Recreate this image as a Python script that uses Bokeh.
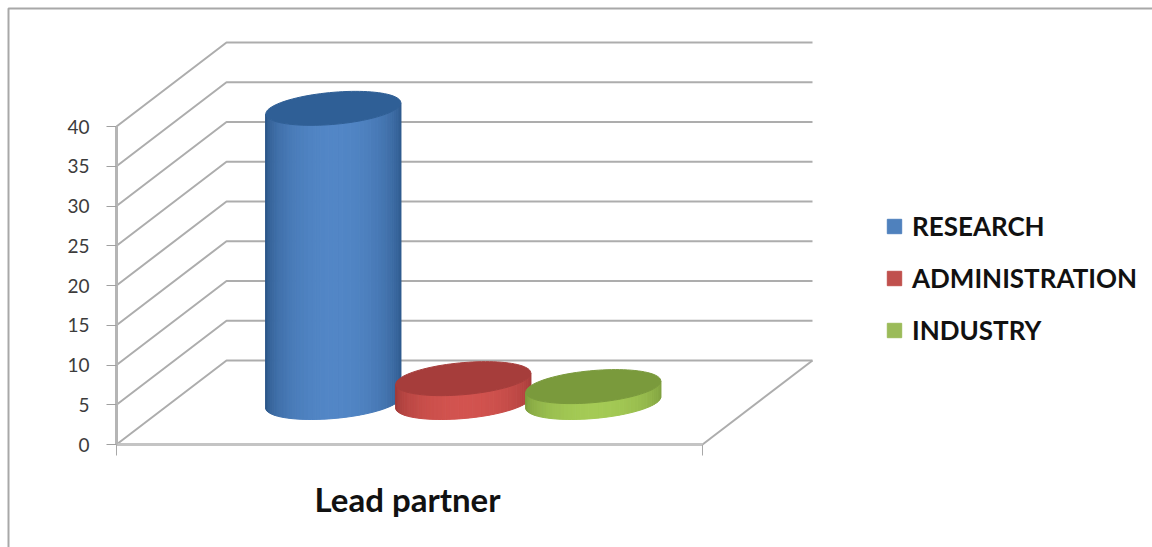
from bokeh.plotting import figure
from bokeh.models import ColumnDataSource, FixedTicker, Legend, LegendItem, Range1d, Label, BoxAnnotation, LinearAxis
from bokeh.embed import file_html
from bokeh.resources import INLINE
import math

# ---- data ----
categories = ["RESEARCH", "ADMINISTRATION", "INDUSTRY"]
values = [37, 3, 2]
tick_values = [0, 5, 10, 15, 20, 25, 30, 35, 40]
x_label = "Lead partner"

legend_colors = ["#4f81bd", "#c0504d", "#9bbb59"]
top_colors = ["#2f5f96", "#a63d3b", "#7a9a3c"]
edge_colors = ["#2b5688", "#a03a38", "#7c9c3d"]
mid_colors = ["#5286c6", "#d2534f", "#a4ca55"]

# ---- scale set-up (pixels of the picture) ----
FIG_W, FIG_H = 1152, 547
LEFT, BOTTOM_PX = 116, 444
X_UNIT = 586.0          # px for the floor width (0..1)
Y_UNIT = 7.95           # px per value unit
DEPTH_X = 110.0 / X_UNIT
DEPTH_Y = 84.0 / Y_UNIT
GROUP_STEP = 130.0 / X_UNIT
GROUP_CENTER = 0.5 - 1.2 / X_UNIT
RX = 63.7 / X_UNIT
RD = 0.2024
MID_DEPTH = 0.5


def proj(x, depth, v):
    return x + depth * DEPTH_X, v + depth * DEPTH_Y


def mix(c1, c2, f):
    a = [int(c1[i:i + 2], 16) for i in (1, 3, 5)]
    b = [int(c2[i:i + 2], 16) for i in (1, 3, 5)]
    return "#%02x%02x%02x" % tuple(round(p + (q - p) * f) for p, q in zip(a, b))


p = figure(
    width=FIG_W, height=FIG_H, output_backend="svg", toolbar_location=None,
    x_range=Range1d(-LEFT / X_UNIT, (FIG_W - LEFT) / X_UNIT),
    y_range=Range1d(-(FIG_H - BOTTOM_PX) / Y_UNIT, BOTTOM_PX / Y_UNIT),
    x_axis_location=None, y_axis_location=None,
    min_border=0, min_border_left=0, min_border_right=0, min_border_top=0,
    min_border_bottom=0,
    outline_line_color=None, background_fill_color="white",
)
p.grid.visible = False

# picture's outer frame
p.add_layout(BoxAnnotation(left=8, top=8, right=FIG_W + 20, bottom=FIG_H + 20,
                           left_units="canvas", right_units="canvas",
                           top_units="canvas", bottom_units="canvas",
                           fill_alpha=0, line_color="#a8a8a8", line_alpha=1,
                           line_width=2, editable=False))

# ---- 3-D walls and floor ----
GRID = "#adadad"
for t in tick_values:
    x0, y0 = proj(0, 0, t)
    x1, y1 = proj(0, 1, t)
    x2, y2 = proj(1, 1, t)
    p.line([x0, x1, x2], [y0, y1, y2], line_color=GRID, line_width=2)
xa, ya = proj(1, 0, 0)
xb, yb = proj(1, 1, 0)
p.line([xa, xb], [ya, yb], line_color=GRID, line_width=2)

# ---- cylinders ----
N = 48
for i, (name, val) in enumerate(zip(categories, values)):
    cx = GROUP_CENTER + (i - 1) * GROUP_STEP
    t0 = math.atan2(RD * 110.0, RX * X_UNIT)

    def rim(a, v):
        return proj(cx + RX * math.cos(a), MID_DEPTH + RD * math.sin(a), v)

    xs, ys, colors = [], [], []
    for k in range(N):
        a0 = t0 - math.pi * k / N
        a1 = t0 - math.pi * (k + 1) / N
        b0 = rim(a0, 0)
        b1 = rim(a1, 0)
        c0 = rim(a1, val)
        c1 = rim(a0, val)
        xs.append([b0[0], b1[0], c0[0], c1[0]])
        ys.append([b0[1], b1[1], c0[1], c1[1]])
        f = math.sin(math.pi * (k + 0.5) / N) ** 1.1
        colors.append(mix(edge_colors[i], mid_colors[i], f))
    p.patches(xs, ys, fill_color=colors, line_color=colors, line_width=1)

    top = [rim(2 * math.pi * k / 96, val) for k in range(96)]
    p.patch([q[0] for q in top], [q[1] for q in top],
            fill_color=top_colors[i], line_color=top_colors[i], line_width=1)

# ---- axes, placed at the wall and floor corner ----
ya_ = LinearAxis(fixed_location=0, bounds=(0, 40), ticker=FixedTicker(ticks=tick_values))
ya_.axis_line_color = "#b5b5b5"
ya_.axis_line_width = 3
ya_.major_tick_line_color = "#a0a0a0"
ya_.major_tick_line_width = 1
ya_.major_tick_in = 0
ya_.major_tick_out = 10
ya_.minor_tick_line_color = None
ya_.major_label_text_font = "Lato"
ya_.major_label_text_font_size = "19px"
ya_.major_label_text_color = "#3c3c3c"
ya_.major_label_standoff = 17
p.add_layout(ya_, "left")

xa_ = LinearAxis(fixed_location=0, bounds=(0, 1), ticker=FixedTicker(ticks=[0, 1]))
xa_.major_label_overrides = {0: "", 1: ""}
xa_.major_label_text_font_size = "1px"
xa_.axis_line_color = "#c4c4c4"
xa_.axis_line_width = 3
xa_.major_tick_line_color = "#a8a8a8"
xa_.major_tick_line_width = 1
xa_.major_tick_in = 0
xa_.major_tick_out = 11
xa_.minor_tick_line_color = None
p.add_layout(xa_, "below")

p.add_layout(Label(x=0.5 - 2 / X_UNIT, y=-(498 - BOTTOM_PX) / Y_UNIT, text=x_label,
                   text_align="center", text_baseline="middle",
                   text_font="Lato", text_font_style="bold",
                   text_font_size="33px", text_color="#111111"))

# ---- legend ----
items = []
nan = float("nan")
for name, col in zip(categories, legend_colors):
    src = ColumnDataSource(dict(left=[nan], right=[nan], top=[nan], bottom=[nan]))
    r = p.quad(left="left", right="right", top="top", bottom="bottom",
               source=src, fill_color=col, line_color=col)
    items.append(LegendItem(label=name, renderers=[r]))
legend = Legend(
    items=items, location=(769 + LEFT, 98 + FIG_H - BOTTOM_PX), orientation="vertical",
    background_fill_alpha=0, border_line_color=None, margin=0, padding=0,
    glyph_width=18, glyph_height=18, label_standoff=9, spacing=20,
    label_height=32, label_text_font="Lato", label_text_font_style="bold",
    label_text_font_size="26px", label_text_color="#111111",
)
p.add_layout(legend, "center")

open("out.html", "w").write(file_html(p, INLINE))
